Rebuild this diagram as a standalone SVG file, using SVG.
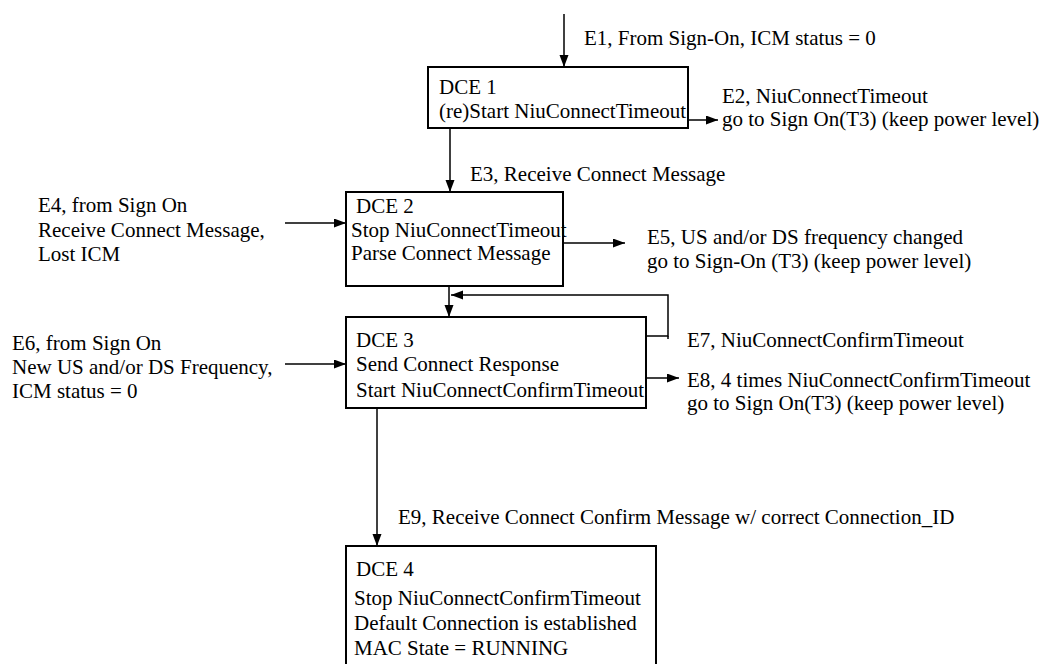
<svg xmlns="http://www.w3.org/2000/svg" width="1044" height="664" viewBox="0 0 1044 664">
<defs>
<style>
.box{fill:#fff;stroke:#000;stroke-width:2}
.ln{fill:none;stroke:#000;stroke-width:1.5}
text{font-family:"Liberation Serif","Times New Roman",serif;font-size:21px;fill:#000}
</style>
<marker id="ah" markerUnits="userSpaceOnUse" markerWidth="13" markerHeight="10" refX="12" refY="4.5" orient="auto">
<path d="M0,0 L12,4.5 L0,9 z" fill="#000"/>
</marker>
</defs>
<rect width="1044" height="664" fill="#fff"/>
<g id="connectors">
<line class="ln" x1="564" y1="14" x2="564" y2="67" marker-end="url(#ah)"/>
<line class="ln" x1="688" y1="120" x2="718" y2="120" marker-end="url(#ah)"/>
<line class="ln" x1="450" y1="128" x2="450" y2="192" marker-end="url(#ah)"/>
<line class="ln" x1="285" y1="223" x2="346" y2="223" marker-end="url(#ah)"/>
<line class="ln" x1="563" y1="243" x2="625" y2="243" marker-end="url(#ah)"/>
<line class="ln" x1="449" y1="286" x2="449" y2="317" marker-end="url(#ah)"/>
<polyline class="ln" points="646,336 668,336 668,295 451,295" marker-end="url(#ah)"/>
<line class="ln" x1="668" y1="336" x2="668" y2="339"/>
<line class="ln" x1="285" y1="364" x2="346" y2="364" marker-end="url(#ah)"/>
<line class="ln" x1="646" y1="378" x2="679" y2="378" marker-end="url(#ah)"/>
<line class="ln" x1="377" y1="408" x2="377" y2="546" marker-end="url(#ah)"/>
<text x="584" y="45">E1, From Sign-On, ICM status = 0</text>
<text x="722" y="103">E2, NiuConnectTimeout</text>
<text x="722" y="126">go to Sign On(T3) (keep power level)</text>
<text x="470" y="181">E3, Receive Connect Message</text>
<text x="38" y="212">E4, from Sign On</text>
<text x="38" y="237">Receive Connect Message,</text>
<text x="38" y="261">Lost ICM</text>
<text x="647" y="244">E5, US and/or DS frequency changed</text>
<text x="647" y="268">go to Sign-On (T3) (keep power level)</text>
<text x="12" y="350">E6, from Sign On</text>
<text x="12" y="374">New US and/or DS Frequency,</text>
<text x="12" y="398">ICM status = 0</text>
<text x="687" y="347">E7, NiuConnectConfirmTimeout</text>
<text x="687" y="387">E8, 4 times NiuConnectConfirmTimeout</text>
<text x="687" y="410">go to Sign On(T3) (keep power level)</text>
<text x="398" y="524">E9, Receive Connect Confirm Message w/ correct Connection_ID</text>
</g>
<g id="dce1">
<rect class="box" x="428" y="67" width="260" height="61"/>
<text x="439" y="94">DCE 1</text>
<text x="439" y="118">(re)Start NiuConnectTimeout</text>
</g>
<g id="dce2">
<rect class="box" x="346" y="192" width="217" height="94"/>
<text x="356" y="213">DCE 2</text>
<text x="351" y="237">Stop NiuConnectTimeout</text>
<text x="351" y="260">Parse Connect Message</text>
</g>
<g id="dce3">
<rect class="box" x="346" y="317" width="300" height="91"/>
<text x="356" y="347">DCE 3</text>
<text x="356" y="371">Send Connect Response</text>
<text x="356" y="397">Start NiuConnectConfirmTimeout</text>
</g>
<g id="dce4">
<rect class="box" x="346" y="546" width="310" height="130"/>
<text x="356" y="576">DCE 4</text>
<text x="354" y="605">Stop NiuConnectConfirmTimeout</text>
<text x="354" y="630">Default Connection is established</text>
<text x="354" y="655">MAC State = RUNNING</text>
</g>
</svg>
